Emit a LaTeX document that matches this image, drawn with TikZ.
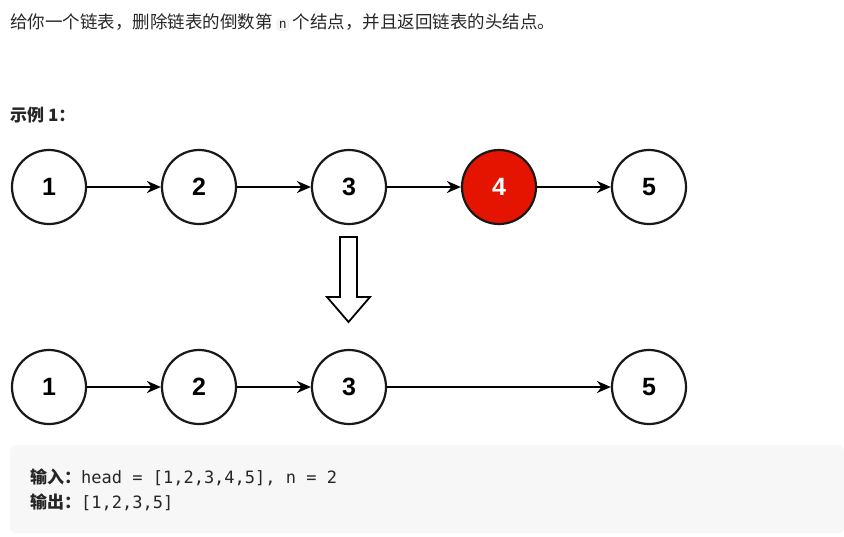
\documentclass[tikz,border=0pt]{standalone}
\usepackage{fontspec}
\setmainfont{Liberation Sans}
\setmonofont{DejaVu Sans Mono}
\newfontfamily\cjk{Noto Sans CJK SC}
\usetikzlibrary{arrows.meta}
\definecolor{codebg}{HTML}{F7F7F7}
\definecolor{redfill}{HTML}{E51400}
\definecolor{txt}{HTML}{262626}
\begin{document}
\begin{tikzpicture}[x=1pt,y=-1pt,
  ln/.style={circle,draw=black!90,line width=2.2pt,minimum size=74pt,inner sep=0pt,font=\fontsize{25}{25}\selectfont\bfseries},
  link/.style={line width=1.8pt,-{Stealth[length=14pt,width=12pt]}},
  lbl/.style={anchor=west,inner sep=0pt,text=txt}]
\useasboundingbox (0,0) rectangle (844,536);
\node[lbl] (t1) at (10,22) {\cjk\fontsize{17.5}{17.5}\selectfont 给你一个链表，删除链表的倒数第 \tikz[baseline=(nn.base)]\node[fill=codebg,draw=black!8,rounded corners=3pt,inner sep=2pt,font=\ttfamily\fontsize{13}{13}\selectfont] (nn) {n}; 个结点，并且返回链表的头结点。};
\node[lbl] (t2) at (10,115) {\cjk\fontsize{17}{17}\selectfont\bfseries 示例 1：};
\foreach \i/\x in {1/49,2/199,3/349,5/649}{\node[ln] (a\i) at (\x,187) {\i};}
\node[ln,fill=redfill,text=white] (a4) at (499,187) {4};
\draw[link] (a1) -- (a2); \draw[link] (a2) -- (a3); \draw[link] (a3) -- (a4); \draw[link] (a4) -- (a5);
\foreach \i/\x in {1/49,2/199,3/349,5/649}{\node[ln] (b\i) at (\x,387) {\i};}
\draw[link] (b1) -- (b2); \draw[link] (b2) -- (b3); \draw[link] (b3) -- (b5);
\draw[line width=1.8pt,fill=white] (340,237) -- (357,237) -- (357,297) -- (370,297) -- (348.5,322) -- (327,297) -- (340,297) -- cycle;
\node[fill=codebg,rounded corners=6pt,minimum width=834pt,minimum height=88pt,inner sep=0pt,anchor=north west] (code) at (10,445) {};
\node[lbl] (i1) at (30,477) {\cjk\fontsize{17}{17}\selectfont\bfseries 输入：\normalfont\ttfamily\fontsize{17}{17}\selectfont head = [1,2,3,4,5], n = 2};
\node[lbl] (i2) at (30,502) {\cjk\fontsize{17}{17}\selectfont\bfseries 输出：\normalfont\ttfamily\fontsize{17}{17}\selectfont [1,2,3,5]};
\end{tikzpicture}
\end{document}
